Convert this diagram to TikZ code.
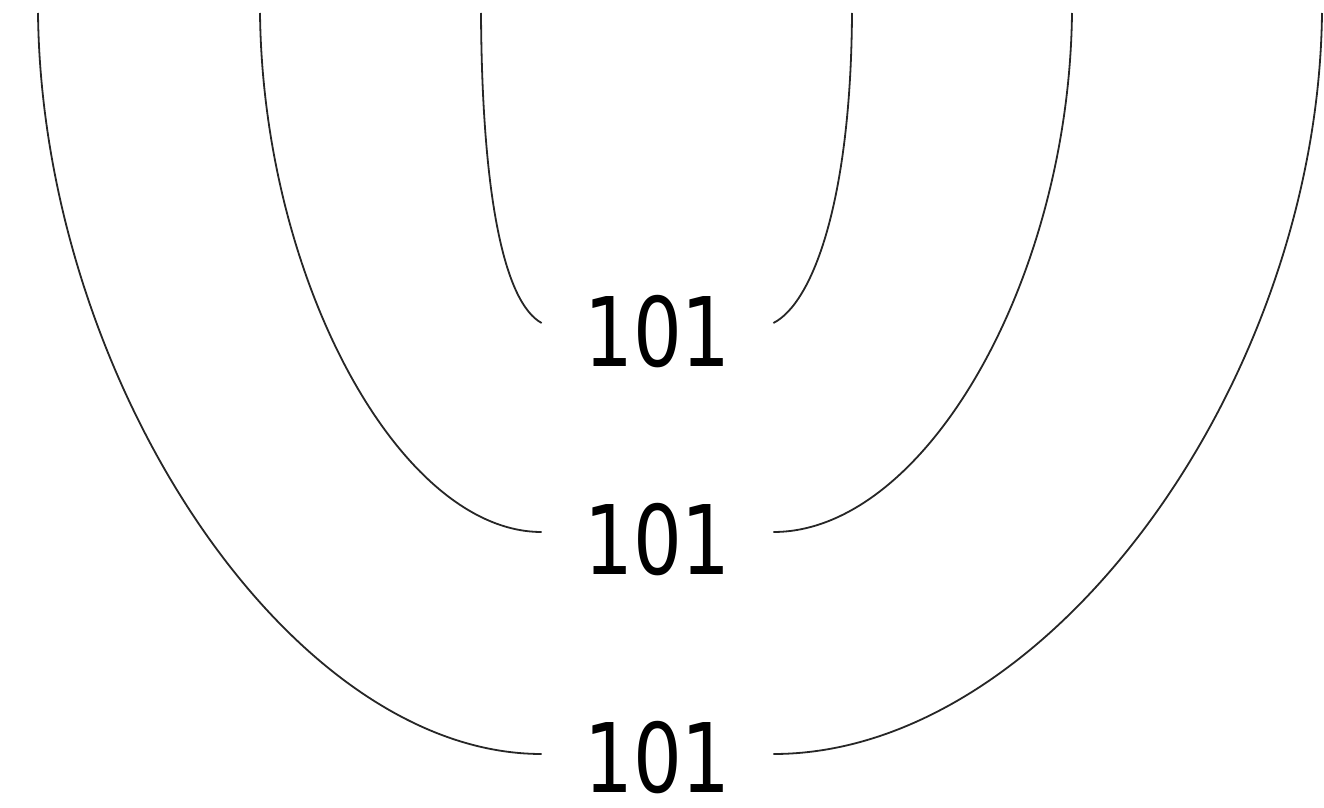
\documentclass[tikz,border=0pt]{standalone}
\usepackage{fontspec}
\setmainfont{DejaVu Sans}[FakeStretch=0.8]
\begin{document}
\begin{tikzpicture}[x=0.5pt,y=-0.5pt,
  curve/.style={draw=black!85,line width=0.9pt},
  num/.style={inner sep=0pt,minimum width=115.5pt,font=\fontsize{48}{50}\selectfont}]
\useasboundingbox (0,0) rectangle (1324,808);
% labels
\node[num] (t1) at (657.5,332) {101};
\node[num] (t2) at (657.5,540) {101};
\node[num] (t3) at (657.5,758) {101};
% top ends
\coordinate (a1) at (481,13);
\coordinate (b1) at (852,13);
\coordinate (a2) at (260,13);
\coordinate (b2) at (1072,13);
\coordinate (a3) at (38,13);
\coordinate (b3) at (1322,13);
% inner
\draw[curve] (a1) .. controls (482,200) and (505,303) .. ([yshift=4.5pt]t1.west);
\draw[curve] (b1) .. controls (851,200) and (813,303) .. ([yshift=4.5pt]t1.east);
% middle
\draw[curve] (a2) .. controls (263,280) and (400,532) .. ([yshift=4pt]t2.west);
\draw[curve] (b2) .. controls (1069,280) and (925,532) .. ([yshift=4pt]t2.east);
% outer
\draw[curve] (a3) .. controls (42,380) and (290,754) .. ([yshift=2pt]t3.west);
\draw[curve] (b3) .. controls (1318,380) and (1050,754) .. ([yshift=2pt]t3.east);
\end{tikzpicture}
\end{document}
